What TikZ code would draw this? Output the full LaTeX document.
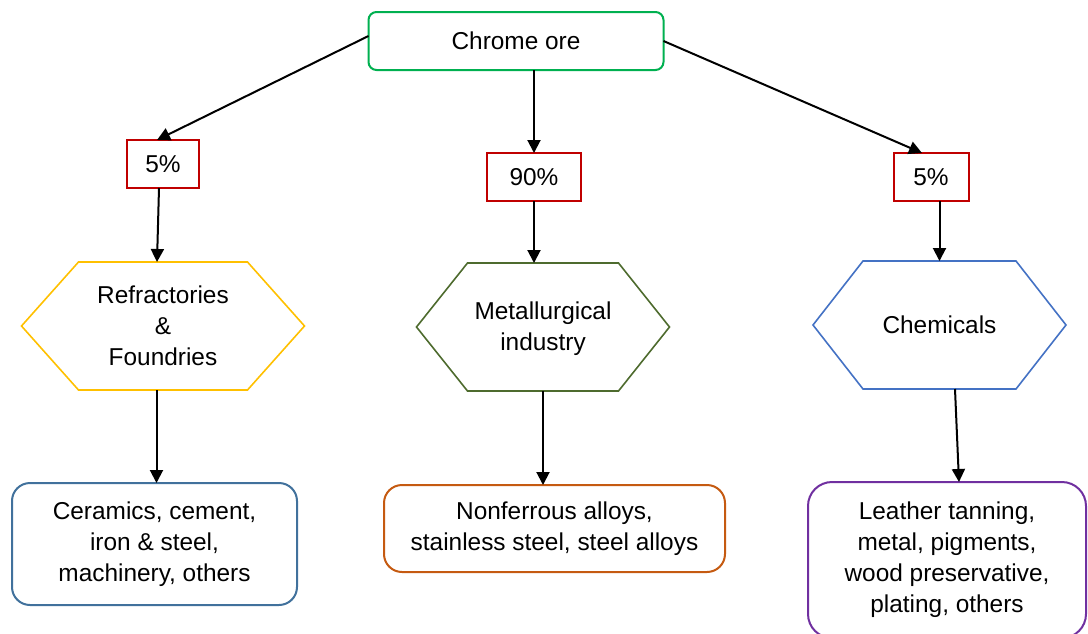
\documentclass[tikz,border=0pt]{standalone}
\usepackage{fontspec}
\setmainfont{Liberation Sans}
\usetikzlibrary{arrows.meta, positioning}
\definecolor{oregreen}{HTML}{00B050}
\definecolor{pctred}{HTML}{C00000}
\definecolor{hexyellow}{HTML}{FFC000}
\definecolor{hexgreen}{HTML}{4E6B2E}
\definecolor{hexblue}{HTML}{4472C4}
\definecolor{useblue}{HTML}{41719C}
\definecolor{useorange}{HTML}{C55A11}
\definecolor{usepurple}{HTML}{7030A0}
\tikzset{
  >={Triangle[length=6.5pt, width=6.5pt]},
  base/.style={align=center, outer sep=0pt, inner sep=2pt,
               font=\fontsize{12.2}{15.5}\selectfont},
  orebox/.style={base, draw=oregreen, line width=1pt, rounded corners=4pt,
                 minimum width=147.5pt, minimum height=29pt},
  pct/.style={base, draw=pctred, line width=1pt, minimum height=24pt},
  hexa/.style={base, minimum height=64pt},
  hexline/.style={line width=0.8pt},
  leaf/.style={base, line width=1pt, rounded corners=9pt},
  flow/.style={->, line width=1pt, draw=black},
}
\begin{document}
\begin{tikzpicture}[x=0.5pt, y=-0.5pt]
    \useasboundingbox (0,0) rectangle (1088,633);
    \node[orebox] (ore) at (516,41) {Chrome ore};
    \node[pct, minimum width=36pt] (pl) at (163,164) {5\%};
    \node[pct, minimum width=47pt] (pm) at (534,177) {90\%};
    \node[pct, minimum width=37.5pt] (pr) at (931,177) {5\%};
    \node[hexa, minimum width=141.5pt, below=37pt of pl] (refr) {Refractories\\ \&\\ Foundries};
    \node[hexa, minimum width=126.5pt, below=31pt of pm, xshift=4.5pt] (metal) {\strut Metallurgical\\ industry};
    \node[hexa, minimum width=126.5pt, below=30pt of pr, xshift=4.25pt] (chem) {Chemicals};
    \node[leaf, draw=useblue, minimum width=142.5pt, minimum height=61pt, below=46.5pt of refr, xshift=-4.25pt] (ceram) {Ceramics, cement,\\ iron \& steel,\\ machinery, others};
    \node[leaf, draw=useorange, minimum width=170.5pt, minimum height=43.5pt, below=47pt of metal, xshift=5.75pt] (nonf) {Nonferrous alloys,\\ stainless steel, steel alloys};
    \node[leaf, draw=usepurple, rounded corners=12pt, minimum width=139pt, minimum height=78pt, below=46.5pt of chem, xshift=3.75pt] (leath) {Leather tanning,\\ metal, pigments,\\ wood preservative,\\ plating, others};
    \foreach \n/\c/\d in {refr/hexyellow/28.5pt, metal/hexgreen/25.5pt, chem/hexblue/25pt}
      \draw[hexline, draw=\c] (\n.west) -- ([xshift=\d]\n.north west) -- ([xshift=-\d]\n.north east)
        -- (\n.east) -- ([xshift=-\d]\n.south east) -- ([xshift=\d]\n.south west) -- cycle;
    \draw[flow] ([yshift=2.5pt]ore.west) -- ([xshift=-3pt]pl.north);
    \draw[flow] (ore.south -| pm.north) -- (pm.north);
    \draw[flow] (ore.east) -- ([xshift=-4.5pt]pr.north);
    \draw[flow] ([xshift=-2pt]pl.south) -- ([xshift=-3pt]pl.south |- refr.north);
    \draw[flow] (pm) -- (pm |- metal.north);
    \draw[flow] (chem.north |- pr.south) -- (chem.north);
    \draw[flow] ([xshift=1pt]ceram.north |- refr.south) -- ([xshift=1pt]ceram.north);
    \draw[flow] (metal) -- (metal |- nonf.north);
    \draw[flow] ([xshift=4pt]leath.north |- chem.south) -- ([xshift=6pt]leath.north);
  \end{tikzpicture}
\end{document}
